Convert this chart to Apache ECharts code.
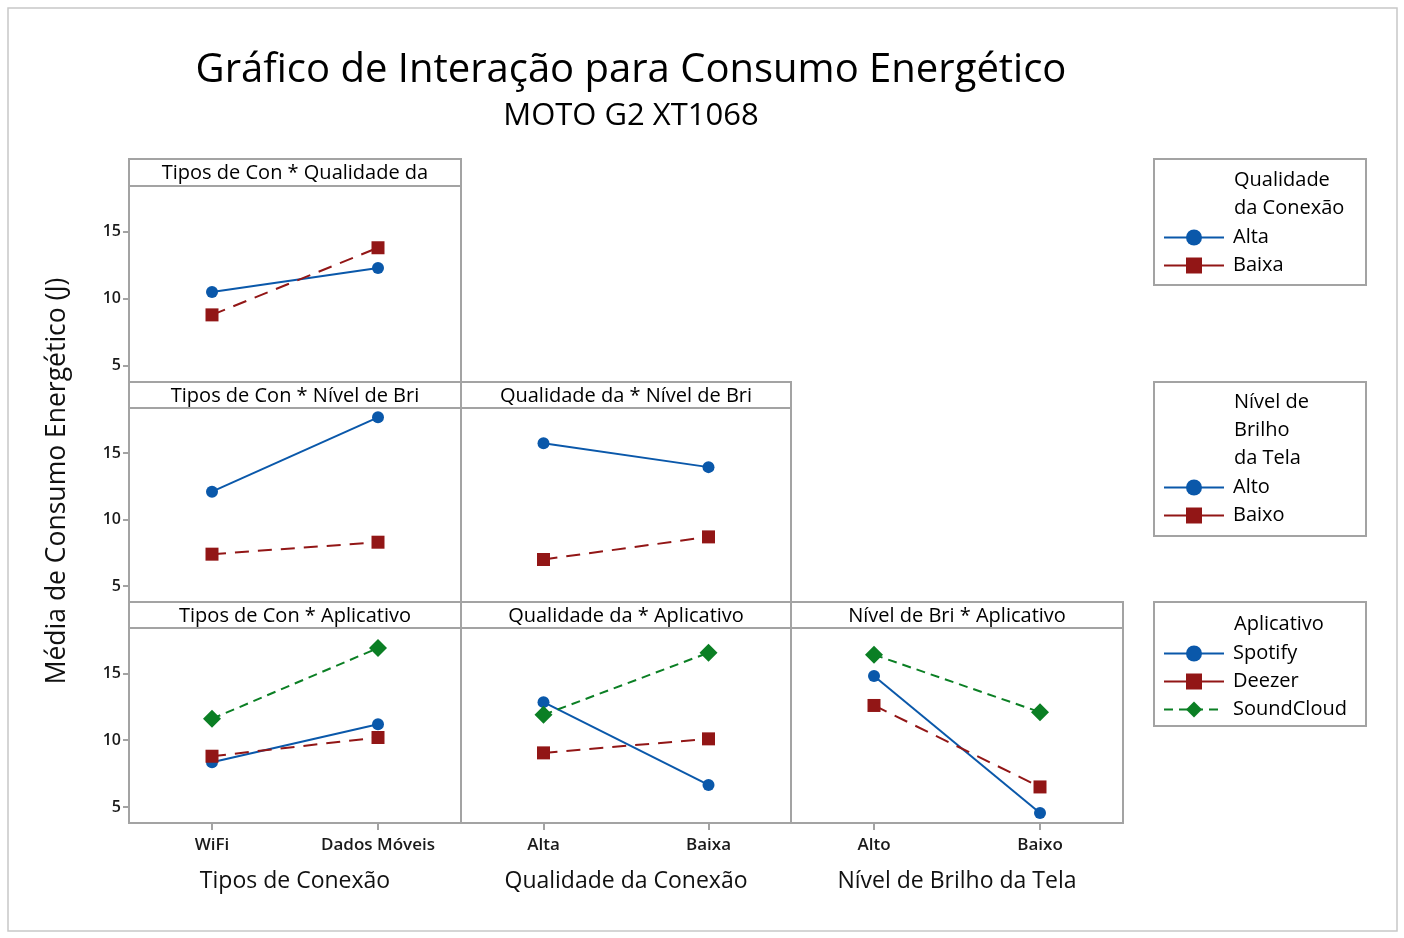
<!DOCTYPE html>
<html><head><meta charset="utf-8">
<script src="https://cdn.jsdelivr.net/npm/echarts@6/dist/echarts.min.js"></script>
<style>html,body{margin:0;padding:0;background:#fff}#c{width:1404px;height:938px}</style>
</head><body><div id="c"></div>
<script>
// ---- data ----
const catTipos = ['WiFi', 'Dados Móveis'];
const catQualidade = ['Alta', 'Baixa'];
const catNivel = ['Alto', 'Baixo'];
const yTicks = [5, 10, 15];

// Tipos de Conexão * Qualidade da Conexão
const tq_Alta = [10.5, 12.3];
const tq_Baixa = [8.8, 13.8];
// Tipos de Conexão * Nível de Brilho
const tn_Alto = [12.1, 17.7];
const tn_Baixo = [7.4, 8.3];
// Qualidade * Nível de Brilho
const qn_Alto = [15.75, 13.95];
const qn_Baixo = [7.0, 8.7];
// Tipos * Aplicativo
const ta_Spotify = [8.35, 11.2];
const ta_Deezer = [8.8, 10.2];
const ta_SoundCloud = [11.6, 16.9];
// Qualidade * Aplicativo
const qa_Spotify = [12.85, 6.65];
const qa_Deezer = [9.05, 10.1];
const qa_SoundCloud = [11.9, 16.55];
// Nível * Aplicativo
const na_Spotify = [14.8, 4.55];
const na_Deezer = [12.6, 6.5];
const na_SoundCloud = [16.4, 12.1];

// ---- styles ----
const FONT = '"Open Sans", "Noto Sans", sans-serif';
const BLUE = '#0a58aa', RED = '#921616', GREEN = '#0b7f24';
const BORDER = '#a3a3a3';
const YMIN = 3.8, YMAX = 18.4;

const cols = [{l:129,w:332},{l:461,w:330},{l:791,w:332}];
const rows = [{hTop:159,t:186,h:196},{hTop:382,t:408,h:194},{hTop:602,t:628,h:195}];
const panels = [
  {r:0,c:0,cats:catTipos,title:'Tipos de Con * Qualidade da'},
  {r:1,c:0,cats:catTipos,title:'Tipos de Con * Nível de Bri'},
  {r:1,c:1,cats:catQualidade,title:'Qualidade da * Nível de Bri'},
  {r:2,c:0,cats:catTipos,title:'Tipos de Con * Aplicativo',xname:'Tipos de Conexão'},
  {r:2,c:1,cats:catQualidade,title:'Qualidade da * Aplicativo',xname:'Qualidade da Conexão'},
  {r:2,c:2,cats:catNivel,title:'Nível de Bri * Aplicativo',xname:'Nível de Brilho da Tela'}
];

const grid = [], xAxis = [], yAxis = [], graphic = [];
panels.forEach((p, i) => {
  const col = cols[p.c], row = rows[p.r];
  grid.push({left: col.l, top: row.t, width: col.w, height: row.h, show: true,
    borderColor: BORDER, borderWidth: 2, backgroundColor: '#fff'});
  const bottom = p.r === 2;
  xAxis.push({type: 'category', gridIndex: i, data: p.cats, boundaryGap: true,
    axisLine: {show: false},
    axisTick: {show: bottom, alignWithLabel: true, length: 7, lineStyle: {color: BORDER, width: 2}},
    axisLabel: {show: bottom, fontFamily: FONT, fontSize: 17, fontWeight: 600, color: '#1a1a1a', margin: 14},
    name: p.xname || '', nameLocation: 'middle', nameGap: 47,
    nameTextStyle: {fontFamily: FONT, fontSize: 23, color: '#111'},
    splitLine: {show: false}});
  const left = p.c === 0;
  yAxis.push({type: 'value', gridIndex: i, min: YMIN, max: YMAX,
    axisLine: {show: false},
    axisTick: {show: left, length: 6, customValues: yTicks, lineStyle: {color: BORDER, width: 2}},
    axisLabel: {show: left, customValues: yTicks, fontFamily: FONT, fontSize: 16, fontWeight: 600, color: '#1a1a1a', margin: 8},
    splitLine: {show: false}});
  graphic.push({type: 'rect', shape: {x: col.l, y: row.hTop, width: col.w, height: row.t - row.hTop},
    style: {fill: '#fff', stroke: BORDER, lineWidth: 2}, z: 10});
  graphic.push({type: 'text', x: col.l + col.w / 2, y: row.hTop + (row.t - row.hTop) / 2 + 1,
    style: {text: p.title, fontFamily: FONT, fontSize: 20, fill: '#000', align: 'center', verticalAlign: 'middle'}, z: 11});
});

function mk(name, gi, data, kind) {
  const st = {
    blue: {color: BLUE, symbol: 'circle', size: 12, type: 'solid'},
    red: {color: RED, symbol: 'rect', size: 13, type: [14, 9]},
    green: {color: GREEN, symbol: 'diamond', size: 18, type: [9, 6]}
  }[kind];
  return {name, type: 'line', xAxisIndex: gi, yAxisIndex: gi, data,
    symbol: st.symbol, symbolSize: st.size, showSymbol: true,
    itemStyle: {color: st.color}, lineStyle: {color: st.color, width: 2, type: st.type},
    emphasis: {disabled: true}, animation: false, z: 3};
}

const series = [
  mk('Alta', 0, tq_Alta, 'blue'), mk('Baixa', 0, tq_Baixa, 'red'),
  mk('Alto', 1, tn_Alto, 'blue'), mk('Baixo', 1, tn_Baixo, 'red'),
  mk('Alto', 2, qn_Alto, 'blue'), mk('Baixo', 2, qn_Baixo, 'red'),
  mk('Spotify', 3, ta_Spotify, 'blue'), mk('Deezer', 3, ta_Deezer, 'red'), mk('SoundCloud', 3, ta_SoundCloud, 'green'),
  mk('Spotify', 4, qa_Spotify, 'blue'), mk('Deezer', 4, qa_Deezer, 'red'), mk('SoundCloud', 4, qa_SoundCloud, 'green'),
  mk('Spotify', 5, na_Spotify, 'blue'), mk('Deezer', 5, na_Deezer, 'red'), mk('SoundCloud', 5, na_SoundCloud, 'green')
];

graphic.push({type: 'rect', shape: {x: 8, y: 8, width: 1389, height: 923}, style: {fill: null, stroke: '#c8c8c8', lineWidth: 1.5}, z: 0});
graphic.push({type: 'text', x: 57, y: 481, rotation: Math.PI / 2,
  style: {text: 'Média de Consumo Energético (J)', fontFamily: FONT, fontSize: 26.5, fill: '#111', align: 'center', verticalAlign: 'middle'}});
const legBoxes = [
  {y: 159, h: 126, title: 'Qualidade\nda Conexão', ty: 166, data: ['Alta', 'Baixa'], ltop: 227},
  {y: 382, h: 154, title: 'Nível de\nBrilho\nda Tela', ty: 388, data: ['Alto', 'Baixo'], ltop: 477},
  {y: 602, h: 124, title: 'Aplicativo', ty: 610, data: ['Spotify', 'Deezer', 'SoundCloud'], ltop: 643}
];
const legend = [];
legBoxes.forEach(b => {
  graphic.push({type: 'rect', shape: {x: 1154, y: b.y, width: 212, height: b.h},
    style: {fill: '#fff', stroke: BORDER, lineWidth: 2}, z: 0});
  graphic.push({type: 'text', x: 1234, y: b.ty,
    style: {text: b.title, fontFamily: FONT, fontSize: 20, lineHeight: 28, fill: '#000', align: 'left', verticalAlign: 'top'}});
  legend.push({
    data: b.data.map(n => n === 'SoundCloud' ? {name: n} : {name: n, lineStyle: {type: 'solid'}}),
    orient: 'vertical', left: 1163, top: b.ltop, itemWidth: 60, itemHeight: 20, itemGap: 7,
    selectedMode: false, textStyle: {fontFamily: FONT, fontSize: 20, color: '#000', lineHeight: 21, padding: [0, 0, 0, 4]},
    padding: 0});
});

const chart = echarts.init(document.getElementById('c'), null, {renderer: 'canvas'});
chart.setOption({
  animation: false,
  backgroundColor: '#fff',
  title: [
    {text: 'Gráfico de Interação para Consumo Energético', left: 626, top: 46, textAlign: 'center',
      textStyle: {fontFamily: FONT, fontSize: 40, fontWeight: 'normal', color: '#000'}},
    {text: 'MOTO G2 XT1068', left: 626, top: 96, textAlign: 'center',
      textStyle: {fontFamily: FONT, fontSize: 31, fontWeight: 'normal', color: '#000'}}
  ],
  grid, xAxis, yAxis, series, legend, graphic
});
</script></body></html>
